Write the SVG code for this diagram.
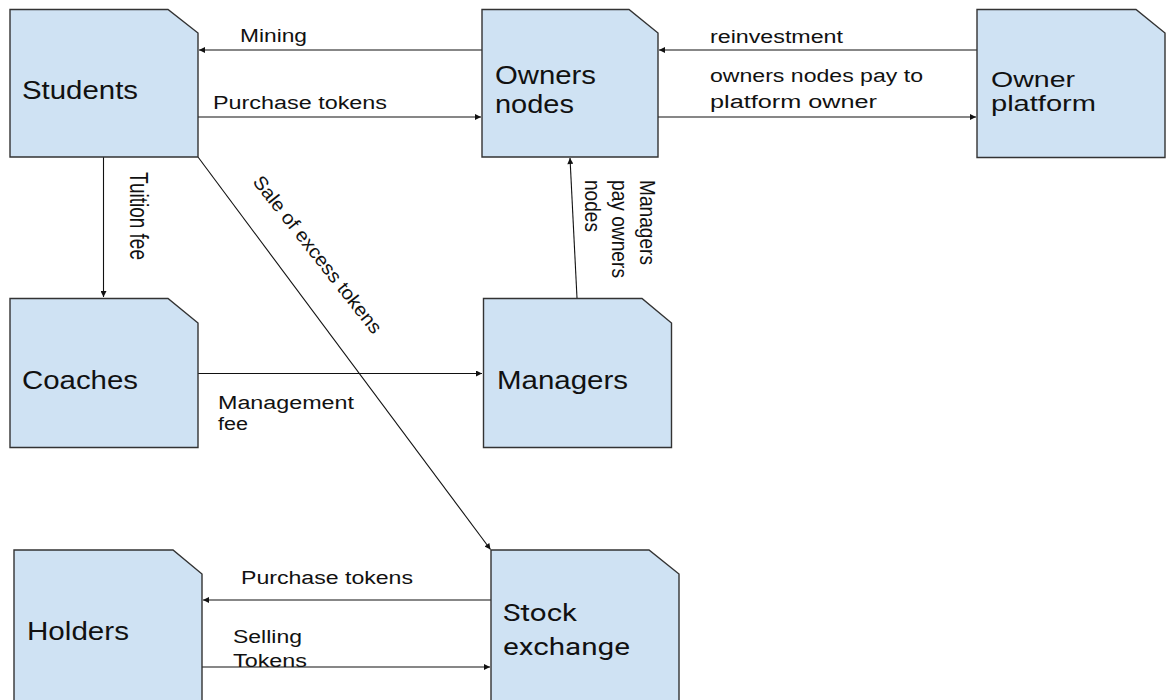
<svg xmlns="http://www.w3.org/2000/svg" width="1166" height="700" viewBox="0 0 1166 700">
  <style>
    .node { fill: #cfe2f3; stroke: #333333; stroke-width: 1.4; }
    .ntext { font-family: "Liberation Sans", Arial, sans-serif; font-size: 25px; fill: #111111; }
    .rtext { font-family: Roboto, "Liberation Sans", sans-serif; font-size: 24px; fill: #111111; }
    .label { font-family: "Liberation Sans", Arial, sans-serif; font-size: 18px; fill: #111111; }
    .edge { fill: none; stroke: #111111; stroke-width: 1.1; marker-end: url(#arrow); }
  </style>
  <defs>
    <marker id="arrow" viewBox="0 0 10 10" refX="10" refY="5" markerUnits="userSpaceOnUse" markerWidth="8" markerHeight="6" orient="auto">
      <path d="M0,0 L10,5 L0,10 z" fill="#111111"/>
    </marker>
  </defs>

  <rect width="1166" height="700" fill="#ffffff"/>

  <!-- connectors -->
  <g id="connectors">
    <line class="edge" x1="482" y1="50" x2="199" y2="50"/>
    <line class="edge" x1="198" y1="117" x2="481" y2="117"/>
    <line class="edge" x1="977" y1="50" x2="659" y2="50"/>
    <line class="edge" x1="658" y1="117" x2="976" y2="117"/>
    <line class="edge" x1="103.5" y1="157" x2="103.5" y2="297"/>
    <line class="edge" x1="198" y1="157" x2="490.5" y2="549.5"/>
    <line class="edge" x1="577" y1="298" x2="570" y2="158"/>
    <line class="edge" x1="198" y1="373.5" x2="482" y2="373.5"/>
    <line class="edge" x1="491" y1="600" x2="203" y2="600"/>
    <line class="edge" x1="202" y1="667" x2="490" y2="667"/>

    <text class="label" x="240" y="42" textLength="67" lengthAdjust="spacingAndGlyphs">Mining</text>
    <text class="label" x="213" y="109" textLength="174" lengthAdjust="spacingAndGlyphs">Purchase tokens</text>
    <text class="label" x="710" y="43" textLength="133" lengthAdjust="spacingAndGlyphs">reinvestment</text>
    <text class="label" x="710" y="82" textLength="213" lengthAdjust="spacingAndGlyphs">owners nodes pay to</text>
    <text class="label" x="710" y="108" textLength="167" lengthAdjust="spacingAndGlyphs">platform owner</text>
    <text class="label" x="218" y="409" textLength="136" lengthAdjust="spacingAndGlyphs">Management</text>
    <text class="label" x="218" y="430" textLength="30" lengthAdjust="spacingAndGlyphs">fee</text>
    <text class="label" x="241" y="584" textLength="172" lengthAdjust="spacingAndGlyphs">Purchase tokens</text>
    <text class="label" x="233" y="643" textLength="69" lengthAdjust="spacingAndGlyphs">Selling</text>
    <text class="label" x="233" y="667" textLength="74" lengthAdjust="spacingAndGlyphs">Tokens</text>

    <g transform="translate(129.5,172) scale(1.4,1) rotate(90)">
      <text class="label" x="0" y="0" style="font-size:19px" textLength="88" lengthAdjust="spacingAndGlyphs">Tuition fee</text>
    </g>
    <g transform="translate(252,182) rotate(51.7)">
      <text class="label" x="0" y="0" style="font-size:19px" textLength="195" lengthAdjust="spacingAndGlyphs">Sale of excess tokens</text>
    </g>
    <g transform="scale(1.15,1)">
      <g transform="translate(556.5,180) rotate(90)">
        <text class="label" x="0" y="0" style="font-size:19px" textLength="85" lengthAdjust="spacingAndGlyphs">Managers</text>
        <text class="label" x="0" y="24.5" style="font-size:19px" textLength="98" lengthAdjust="spacingAndGlyphs">pay owners</text>
        <text class="label" x="0" y="48" style="font-size:19px" textLength="52" lengthAdjust="spacingAndGlyphs">nodes</text>
      </g>
    </g>
  </g>

  <!-- nodes -->
  <g id="students">
    <path class="node" d="M10,9.5 H168 L198,33 V157 H10 Z"/>
    <text class="ntext" x="22" y="99" textLength="116" lengthAdjust="spacingAndGlyphs">Students</text>
  </g>
  <g id="owners-nodes">
    <path class="node" d="M482,9.5 H629 L658,33 V157 H482 Z"/>
    <text class="ntext" x="495" y="84" textLength="101" lengthAdjust="spacingAndGlyphs">Owners</text>
    <text class="ntext" x="495" y="113" textLength="79" lengthAdjust="spacingAndGlyphs">nodes</text>
  </g>
  <g id="owner-platform">
    <path class="node" d="M977,9.5 H1136 L1165,33 V157.5 H977 Z"/>
    <text class="ntext" x="991" y="87" style="font-size:22px" textLength="84" lengthAdjust="spacingAndGlyphs">Owner</text>
    <text class="ntext" x="991" y="111" style="font-size:22px" textLength="105" lengthAdjust="spacingAndGlyphs">platform</text>
  </g>
  <g id="coaches">
    <path class="node" d="M10,298.5 H168 L198,323 V447.5 H10 Z"/>
    <text class="ntext" x="22" y="389" textLength="116" lengthAdjust="spacingAndGlyphs">Coaches</text>
  </g>
  <g id="managers">
    <path class="node" d="M483.5,298.5 H642 L671.5,323 V447.5 H483.5 Z"/>
    <text class="ntext" x="497" y="389" textLength="131" lengthAdjust="spacingAndGlyphs">Managers</text>
  </g>
  <g id="holders">
    <path class="node" d="M14,550 H173 L202,574 V710 H14 Z"/>
    <text class="ntext" x="27" y="640" textLength="102" lengthAdjust="spacingAndGlyphs">Holders</text>
  </g>
  <g id="stock-exchange">
    <path class="node" d="M491,550 H649 L679,574 V710 H491 Z"/>
    <text class="rtext" x="503" y="620.5" textLength="74" lengthAdjust="spacingAndGlyphs">Stock</text>
    <text class="rtext" x="503" y="655" textLength="127" lengthAdjust="spacingAndGlyphs">exchange</text>
  </g>
</svg>
